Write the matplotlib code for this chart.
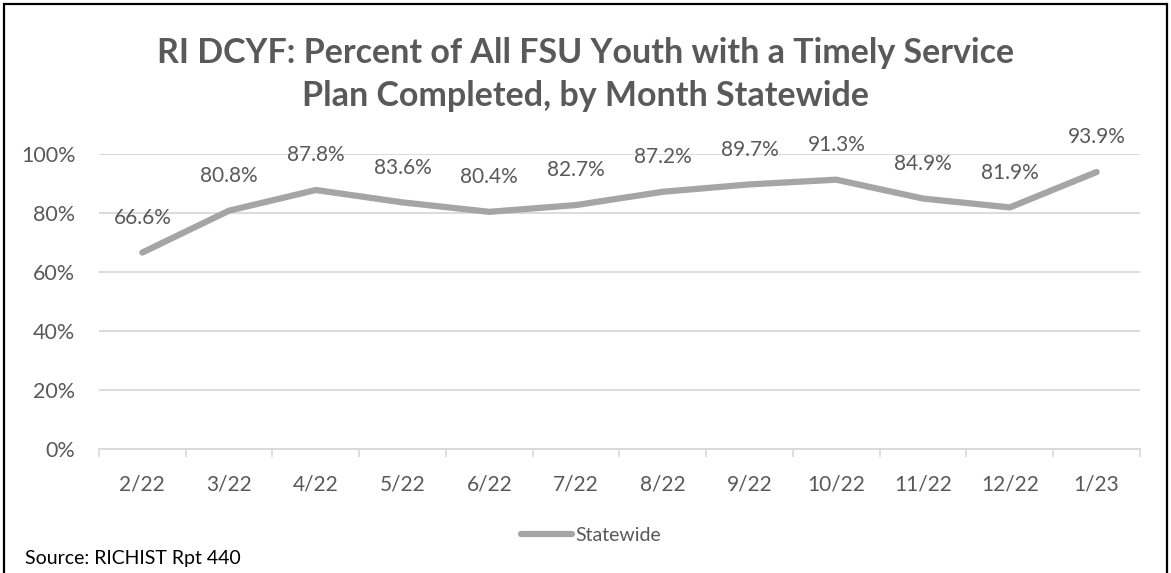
import numpy as np
import matplotlib
matplotlib.use("Agg")
import matplotlib.pyplot as plt
from matplotlib.patches import Rectangle

months = ["2/22", "3/22", "4/22", "5/22", "6/22", "7/22", "8/22", "9/22", "10/22", "11/22", "12/22", "1/23"]
statewide = [66.6, 80.8, 87.8, 83.6, 80.4, 82.7, 87.2, 89.7, 91.3, 84.9, 81.9, 93.9]
yticks = [0, 20, 40, 60, 80, 100]

plt.rcParams['font.family'] = ['Lato', 'DejaVu Sans']
txt = '#595959'
grid = '#D9D9D9'

fig = plt.figure(figsize=(11.71, 5.73), dpi=100)
ax = fig.add_axes([0.0845, 0.2164, 0.889, 0.5148])

x = np.arange(len(months))
ax.plot(x, statewide, color='#A5A5A5', lw=4.5, solid_capstyle='round', label='Statewide')
for xi, v in zip(x, statewide):
    ax.annotate(f"{v:.1f}%", (xi, v), xytext=(0, 25), textcoords='offset points',
                ha='center', va='center', fontsize=15, color=txt, clip_on=False)

ax.set_xlim(-0.5, len(months) - 0.5)
ax.set_ylim(0, 100)
ax.set_yticks(yticks)
ax.set_yticklabels([f"{t}%" for t in yticks])
ax.set_xticks(x)
ax.set_xticklabels(months)
ax.set_xticks(np.arange(-0.5, len(months)), minor=True)
ax.tick_params(axis='x', which='major', length=0, pad=18, labelsize=15, labelcolor=txt)
ax.tick_params(axis='x', which='minor', length=6, width=1.2, color=grid, direction='out')
ax.tick_params(axis='y', length=0, pad=17, labelsize=15.5, labelcolor=txt)
ax.yaxis.grid(True, color=grid, lw=1.3)
ax.set_axisbelow(True)
for s in ['left', 'right', 'top']:
    ax.spines[s].set_visible(False)
ax.spines['bottom'].set_color(grid)
ax.spines['bottom'].set_linewidth(1.3)

fig.text(0.5, 0.87, "RI DCYF: Percent of All FSU Youth with a Timely Service\nPlan Completed, by Month Statewide",
         ha='center', va='center', fontsize=24.5, fontweight='bold', color=txt, linespacing=1.45)

fig.legend(loc='center', bbox_to_anchor=(0.505, 0.065), frameon=False, fontsize=14,
           labelcolor=txt, handlelength=2.6, handletextpad=0.2)

fig.text(0.021, 0.026, "Source: RICHIST Rpt 440", ha='left', va='center', fontsize=14, color='black')

fig.patches.append(Rectangle((0.003, -0.02), 0.994, 1.013, transform=fig.transFigure,
                             fill=False, edgecolor='black', lw=1.6))

fig.savefig("out.png", dpi=100)
